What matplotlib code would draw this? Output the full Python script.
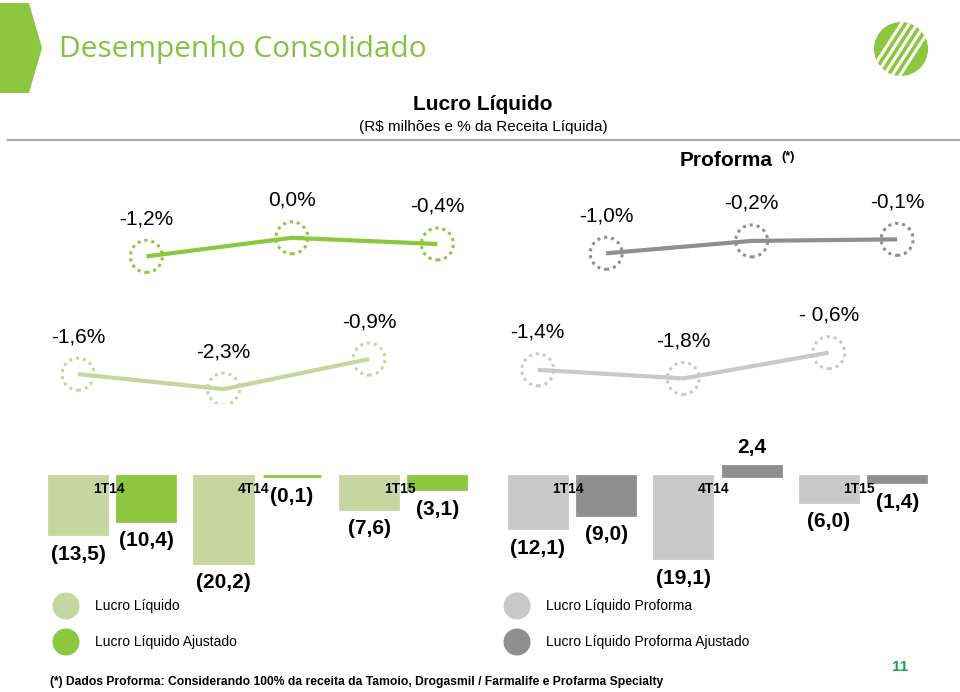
import matplotlib.pyplot as plt
from matplotlib.patches import Polygon, Circle

plt.rcParams['font.family'] = ['Liberation Sans', 'DejaVu Sans']

W, H = 960, 692

periods = ["1T14", "4T14", "1T15"]

# R$ milhoes
lucro = [-13.5, -20.2, -7.6]
lucro_ajustado = [-10.4, -0.1, -3.1]
proforma = [-12.1, -19.1, -6.0]
proforma_ajustado = [-9.0, 2.4, -1.4]

# % da receita liquida
margem_lucro = [-1.6, -2.3, -0.9]
margem_ajustado = [-1.2, 0.0, -0.4]
margem_proforma = [-1.4, -1.8, -0.6]
margem_proforma_aj = [-1.0, -0.2, -0.1]
rotulos_margem_proforma = ["-1,4%", "-1,8%", "- 0,6%"]

VERDE_CLARO = '#c5d6a0'
VERDE = '#8dc63f'
CINZA_CLARO = '#c9c9c9'
CINZA = '#8f8f8f'

# horizontal layout of the two groups (in "period" units)
X0, DX = 78, 145.5
pos_esq = [0, 1, 2]
pos_dir = [i + 3.16 for i in range(3)]
DESLOC = 0.47


def fmt_pct(v):
    return f"{v:.1f}%".replace('.', ',')


def fmt_valor(v):
    s = f"{abs(v):.1f}".replace('.', ',')
    return f"({s})" if v < 0 else s


fig = plt.figure(figsize=(W / 100, H / 100), dpi=100)


def px_axes(x0, y0, x1, y1):
    ax = fig.add_axes([x0 / W, 1 - y1 / H, (x1 - x0) / W, (y1 - y0) / H])
    ax.set_axis_off()
    return ax


def chart_axes(zero_px, px_unit, ymin, ymax):
    ax = px_axes(0, zero_px - ymax * px_unit, W, zero_px - ymin * px_unit)
    ax.set_xlim(-X0 / DX, (W - X0) / DX)
    ax.set_ylim(ymin, ymax)
    return ax


# ---- decorations (pixel coordinates)
bg = px_axes(0, 0, W, H)
bg.set_xlim(0, W)
bg.set_ylim(H, 0)
bg.add_patch(Polygon([(0, 3), (29, 3), (42, 48), (29, 93), (0, 93)], color=VERDE, lw=0))
bg.text(59, 57, "Desempenho Consolidado", family=['Open Sans', 'DejaVu Sans'],
        fontsize=21.5, color='#84c241', va='baseline', ha='left')

logo = Circle((901, 49), 27, color=VERDE, lw=0)
bg.add_patch(logo)
for k in range(-2, 3):
    ln, = bg.plot([901 + k * 8 - 18, 901 + k * 8 + 18], [49 + 28, 49 - 28],
                  color='white', lw=2.2, solid_capstyle='butt')
    ln.set_clip_path(logo)

bg.text(483, 105, "Lucro Líquido", fontsize=15, fontweight='bold', ha='center', va='center')
bg.text(483, 127, "(R$ milhões e % da Receita Líquida)", fontsize=11, ha='center', va='center')
bg.plot([8, W], [140, 140], color='#a8a8a8', lw=1.5)
bg.text(680, 160, "Proforma", fontsize=15, fontweight='bold', ha='left', va='center')
bg.text(781, 157, "(*)", fontsize=9, fontweight='bold', ha='left', va='center')

legenda = [(66, 606, VERDE_CLARO, "Lucro Líquido"),
           (66, 642, VERDE, "Lucro Líquido Ajustado"),
           (517, 606, CINZA_CLARO, "Lucro Líquido Proforma"),
           (517, 642, CINZA, "Lucro Líquido Proforma Ajustado")]
for lx, ly, c, t in legenda:
    bg.add_patch(Circle((lx, ly), 13.5, color=c, lw=0))
    bg.text(lx + 29, ly, t, fontsize=10, ha='left', va='center')

bg.text(50, 682, "(*) Dados Proforma: Considerando 100% da receita da Tamoio, Drogasmil / Farmalife e Profarma Specialty",
        fontsize=8.7, fontweight='bold', ha='left', va='center')
bg.text(900, 667, "11", fontsize=11, fontweight='bold', color='#22a04b', ha='center', va='center')


# ---- margin lines
def linha(ax, xs, vals, rotulos, cor):
    ax.plot(xs, vals, color=cor, lw=3, solid_capstyle='butt', zorder=2)
    ax.scatter(xs, vals, s=530, facecolors='none', edgecolors=cor, linewidths=2.2,
               linestyles=(0, (1, 1.3)), zorder=3)
    for x, v, t in zip(xs, vals, rotulos):
        ax.annotate(t, (x, v), xytext=(0, 27), textcoords='offset points',
                    ha='center', va='center', fontsize=15)


ax_top = chart_axes(237.8, 15.5, -3, 2)
linha(ax_top, [p + DESLOC for p in pos_esq], margem_ajustado,
      [fmt_pct(v) for v in margem_ajustado], VERDE)
linha(ax_top, [p + DESLOC for p in pos_dir], margem_proforma_aj,
      [fmt_pct(v) for v in margem_proforma_aj], CINZA)

ax_mid = chart_axes(339.8, 21.45, -3, 1)
linha(ax_mid, pos_esq, margem_lucro, [fmt_pct(v) for v in margem_lucro], VERDE_CLARO)
linha(ax_mid, pos_dir, margem_proforma, rotulos_margem_proforma, CINZA_CLARO)

# ---- bars
ax_bar = chart_axes(476, 4.3, -30, 10)
series = [(pos_esq, 0, lucro, VERDE_CLARO),
          (pos_esq, DESLOC, lucro_ajustado, VERDE),
          (pos_dir, 0, proforma, CINZA_CLARO),
          (pos_dir, DESLOC, proforma_ajustado, CINZA)]
for base, off, vals, cor in series:
    xs = [p + off for p in base]
    ax_bar.bar(xs, vals, width=0.4, color=cor, edgecolor=cor, linewidth=2, zorder=2)
    for x, v in zip(xs, vals):
        dy = -14.5 if v < 0 else 13
        ax_bar.annotate(fmt_valor(v), (x, v), xytext=(0, dy), textcoords='offset points',
                        ha='center', va='center', fontsize=15, fontweight='bold')

for base in (pos_esq, pos_dir):
    for p, t in zip(base, periods):
        ax_bar.annotate(t, (p + 0.21, 0), xytext=(0, -9.5), textcoords='offset points',
                        ha='center', va='center', fontsize=10, fontweight='bold', zorder=4)

fig.savefig('out.png', dpi=100)
